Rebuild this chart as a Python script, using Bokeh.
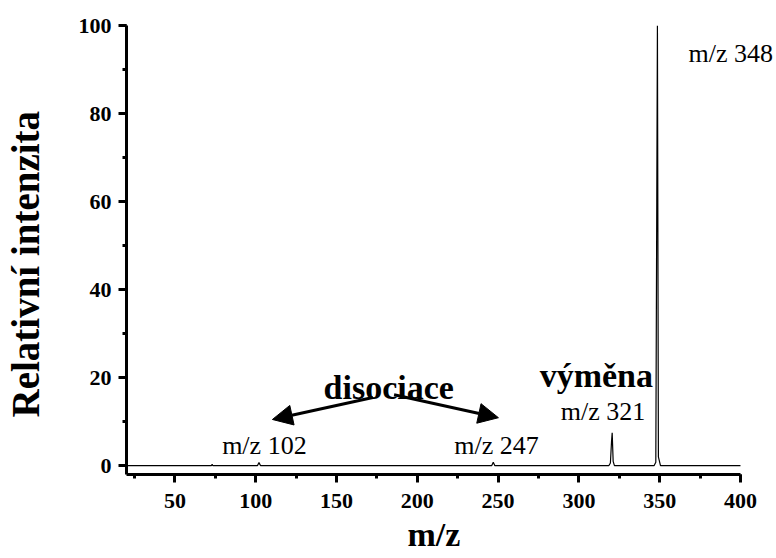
from bokeh.plotting import figure
from bokeh.models import (Range1d, SingleIntervalTicker, Label, Arrow, NormalHead, Title)
from bokeh.embed import file_html
from bokeh.resources import INLINE

# Spectrum data (m/z vs relative intensity)
mz = [20, 72.5, 73, 73.5, 101, 102, 103, 246, 247, 248,
      318.5, 319.5, 320.2, 320.6, 321.2, 322, 346.5, 347.6, 348.2, 348.6, 349.2, 350.5, 400]
intensity = [0, 0, 0.3, 0, 0, 0.7, 0, 0, 0.8, 0,
             0, 0.6, 5.5, 7.5, 1.0, 0, 0, 0.8, 60, 100, 2.0, 0, 0]

peak_labels = ["m/z 102", "m/z 247", "m/z 321", "m/z 348"]

FONT = "Liberation Serif"

p = figure(width=776, height=558, output_backend="svg", toolbar_location=None,
           x_range=Range1d(20, 422.3), y_range=Range1d(-2, 100),
           min_border_left=126, min_border_right=0, min_border_top=25, min_border_bottom=84)
p.outline_line_color = None
p.xgrid.visible = False
p.ygrid.visible = False

p.line(mz, intensity, line_color="black", line_width=1.2)

p.xaxis.ticker = SingleIntervalTicker(interval=50, num_minor_ticks=2)
p.yaxis.ticker = SingleIntervalTicker(interval=20, num_minor_ticks=2)
p.xaxis.bounds = (20, 400)

for ax in (p.xaxis[0], p.yaxis[0]):
    ax.axis_line_width = 3
    ax.major_tick_line_width = 3
    ax.minor_tick_line_width = 3
    ax.major_tick_out = 8
    ax.major_tick_in = 0
    ax.minor_tick_out = 4
    ax.minor_tick_in = 0
    ax.major_label_text_font = FONT
    ax.major_label_text_font_style = "bold"
    ax.major_label_text_font_size = "22px"
    ax.major_label_text_color = "black"

p.xaxis.major_label_standoff = 11
p.yaxis.major_label_standoff = 7
# blank spacer label widens the y-axis panel so the title sits further left
p.yaxis.axis_label = " "
p.yaxis.axis_label_text_font_size = "10px"
p.yaxis.axis_label_standoff = 15

# axis titles (as side titles so they can be offset like the reference)
p.add_layout(Title(text="Relativní intenzita", align="left", offset=57,
                   text_font=FONT, text_font_style="bold", text_font_size="39px",
                   text_color="black", standoff=0), "left")
p.add_layout(Title(text="m/z", align="left", offset=281,
                   text_font=FONT, text_font_style="bold", text_font_size="34px",
                   text_color="black", standoff=7), "below")

# peak labels
label_pos = [(79.2, 4.5), (222.9, 4.5), (288.8, 12.3), (367.8, 93.6)]
for txt, (lx, ly) in zip(peak_labels, label_pos):
    p.add_layout(Label(x=lx, y=ly, text=txt, text_font=FONT, text_font_size="26px",
                       text_align="left", text_baseline="alphabetic", text_color="black"))

p.add_layout(Label(x=142, y=17.7, text="disociace", text_font=FONT, text_font_size="34px",
                   text_font_style="bold", text_align="left", text_baseline="alphabetic",
                   text_color="black"))
p.add_layout(Label(x=275.7, y=20.5, text="výměna", text_font=FONT, text_font_size="34px",
                   text_font_style="bold", text_align="left", text_baseline="alphabetic",
                   text_color="black"))

for (x0, y0, x1, y1) in [(172.5, 15.5, 110.3, 10.5), (185.6, 16.1, 250.2, 10.9)]:
    p.add_layout(Arrow(x_start=x0, y_start=y0, x_end=x1, y_end=y1, line_width=3,
                       line_color="black",
                       end=NormalHead(size=20, fill_color="black", line_color="black", line_width=1)))

open("out.html", "w").write(file_html(p, INLINE))
